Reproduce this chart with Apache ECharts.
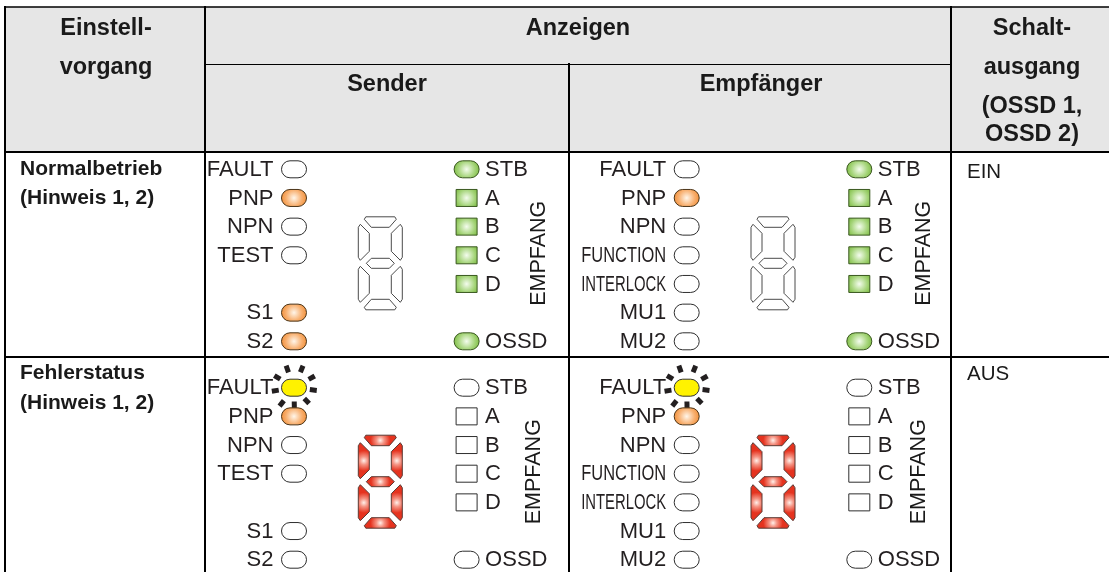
<!DOCTYPE html>
<html style="height: 100%">
<head>
    <meta charset="utf-8">
    <title>Anzeigen</title>
    <script src="https://cdn.jsdelivr.net/npm/echarts@6/dist/echarts.min.js"></script>
</head>
<body style="height: 100%; margin: 0; background: #fff">
    <div id="main" style="width: 1109px; height: 572px"></div>
    <script type="text/javascript">
        // table text
        var stepHead = ['Einstell-', 'vorgang'];
        var displayHead = 'Anzeigen';
        var unitHead = ['Sender', 'Empfänger'];
        var outputHead = ['Schalt-', 'ausgang', '(OSSD 1,', 'OSSD 2)'];
        var stepRows = [['Normalbetrieb', '(Hinweis 1, 2)'], ['Fehlerstatus', '(Hinweis 1, 2)']];
        var outputRows = ['EIN', 'AUS'];
        var sideLabel = 'EMPFANG';

        // the 7 led rows of a panel and its 2 led columns
        var ledSlots = ['r0', 'r1', 'r2', 'r3', 'r4', 'r5', 'r6'];
        var ledColumns = ['links', 'rechts'];

        // led names per row, null = empty row
        var senderLeft = ['FAULT', 'PNP', 'NPN', 'TEST', null, 'S1', 'S2'];
        var receiverLeft = ['FAULT', 'PNP', 'NPN', 'FUNCTION', 'INTERLOCK', 'MU1', 'MU2'];
        var rightNames = ['STB', 'A', 'B', 'C', 'D', null, 'OSSD'];

        // led states per row
        var normalSenderLeft = ['off', 'orange', 'off', 'off', null, 'orange', 'orange'];
        var normalReceiverLeft = ['off', 'orange', 'off', 'off', 'off', 'off', 'off'];
        var normalRight = ['green', 'green', 'green', 'green', 'green', null, 'green'];
        var faultSenderLeft = ['flash', 'orange', 'off', 'off', null, 'off', 'off'];
        var faultReceiverLeft = ['flash', 'orange', 'off', 'off', 'off', 'off', 'off'];
        var faultRight = ['off', 'off', 'off', 'off', 'off', null, 'off'];

        // seven segment display
        var segmentNames = ['a', 'b', 'c', 'd', 'e', 'f', 'g'];
        var normalSegments = ['off', 'off', 'off', 'off', 'off', 'off', 'off'];
        var faultSegments = ['red', 'red', 'red', 'red', 'red', 'red', 'red'];

        var panels = [
            { left: 294, top: 169.3, names: senderLeft, states: normalSenderLeft, right: normalRight, segments: normalSegments, sideX: 539 },
            { left: 686.7, top: 169.3, names: receiverLeft, states: normalReceiverLeft, right: normalRight, segments: normalSegments, sideX: 924 },
            { left: 294, top: 387.7, names: senderLeft, states: faultSenderLeft, right: faultRight, segments: faultSegments, sideX: 534 },
            { left: 686.7, top: 387.7, names: receiverLeft, states: faultReceiverLeft, right: faultRight, segments: faultSegments, sideX: 919 }
        ];
        var panelWidth = 172.6;
        var panelHeight = 172;

        var fontName = '"Liberation Sans", Arial, sans-serif';
        var ink = '#231f20';

        function glow(inner, mid, outer) {
            return new echarts.graphic.RadialGradient(0.5, 0.5, 0.8, [
                { offset: 0, color: inner },
                { offset: 0.55, color: mid },
                { offset: 1, color: outer }
            ]);
        }
        var ledFill = {
            off: '#ffffff',
            flash: '#fff200',
            orange: glow('#fff6ea', '#f8b070', '#f0862a'),
            green: glow('#f4fcee', '#a8d67e', '#74b636')
        };
        var ledStroke = { off: '#2e2e2e', flash: '#333', orange: '#4a3418', green: '#3a5820' };

        // rays round the flashing led, [dx, dy]
        var rays = [[-6.7, -18.7], [7.7, -18.7], [17.7, -10], [19.3, 2.3], [12.7, 13.3], [0.3, 17.3], [-12.3, 15.7], [-18.7, 3], [-16.7, -10.3]];

        // long names get squeezed to fit the label column
        var measure = document.createElement('canvas').getContext('2d');
        measure.font = '22px "Liberation Sans"';
        function squeeze(text) {
            return Math.min(1, 85 / measure.measureText(text).width);
        }

        function ledSeries(panel, index) {
            var rows = [];
            panel.names.forEach(function (name, slot) {
                if (name) rows.push({ col: 0, slot: slot, name: name, state: panel.states[slot] });
            });
            rightNames.forEach(function (name, slot) {
                if (name) rows.push({ col: 1, slot: slot, name: name, state: panel.right[slot] });
            });
            return {
                type: 'custom',
                coordinateSystem: 'cartesian2d',
                xAxisIndex: index,
                yAxisIndex: index,
                clip: false,
                silent: true,
                z: 5,
                data: rows.map(function (r) { return [r.col, r.slot]; }),
                renderItem: function (params, api) {
                    var r = rows[params.dataIndex];
                    var p = api.coord([api.value(0), api.value(1)]);
                    var square = r.name.length === 1;
                    var w = square ? 21 : 25;
                    var kids = [];
                    if (r.state === 'flash') {
                        rays.forEach(function (d) {
                            kids.push({
                                type: 'rect',
                                x: p[0] + d[0],
                                y: p[1] + d[1],
                                rotation: -Math.atan2(d[1], d[0]),
                                shape: { x: -3.5, y: -2.5, width: 7, height: 5 },
                                style: { fill: '#231f20' }
                            });
                        });
                    }
                    kids.push({
                        type: 'rect',
                        shape: { x: p[0] - w / 2, y: p[1] - 8.5, width: w, height: 17, r: square ? 0 : 8.5 },
                        style: { fill: ledFill[r.state], stroke: ledStroke[r.state], lineWidth: 1 }
                    });
                    kids.push({
                        type: 'text',
                        x: r.col === 0 ? p[0] - 20.5 : p[0] + 18.5,
                        y: p[1] + 0.5,
                        scaleX: squeeze(r.name),
                        style: {
                            text: r.name,
                            fill: ink,
                            font: '22px ' + fontName,
                            align: r.col === 0 ? 'right' : 'left',
                            verticalAlign: 'middle'
                        }
                    });
                    return { type: 'group', children: kids };
                }
            };
        }

        // corner points of the segments, relative to the display centre
        var capShape = [[-14.5, -46.5], [14.5, -46.5], [16, -44], [9, -36], [-9, -36], [-16, -44]];
        var sideShape = [[-20, -39], [-11, -30], [-11, -12], [-20, -3], [-22, -6], [-22, -36]];
        var barShape = [[-14, 0], [-9, -5], [9, -5], [14, 0], [9, 5], [-9, 5]];
        var segmentShapes = {
            a: [capShape, 1, 1],
            b: [sideShape, -1, 1],
            c: [sideShape, -1, -1],
            d: [capShape, 1, -1],
            e: [sideShape, 1, -1],
            f: [sideShape, 1, 1],
            g: [barShape, 1, 1]
        };
        var segmentRed = new echarts.graphic.RadialGradient(0.5, 0.5, 0.85, [
            { offset: 0, color: '#fff0ea' },
            { offset: 0.4, color: '#f59484' },
            { offset: 1, color: '#e5331f' }
        ]);

        function segmentSeries(panel, index) {
            return {
                type: 'custom',
                coordinateSystem: 'cartesian2d',
                xAxisIndex: index,
                yAxisIndex: index,
                clip: false,
                silent: true,
                z: 4,
                data: segmentNames.map(function () { return [0, 0]; }),
                renderItem: function (params, api) {
                    var sys = params.coordSys;
                    var cx = sys.x + sys.width / 2;
                    var cy = sys.y + sys.height / 2 + 8;
                    var def = segmentShapes[segmentNames[params.dataIndex]];
                    var points = def[0].map(function (pt) {
                        return [cx + pt[0] * def[1], cy + pt[1] * def[2]];
                    });
                    var lit = panel.segments[params.dataIndex] === 'red';
                    return {
                        type: 'polygon',
                        shape: { points: points },
                        style: {
                            fill: lit ? segmentRed : '#ffffff',
                            stroke: lit ? '#5a3a34' : '#4a4a4a',
                            lineWidth: 1,
                            lineJoin: 'round'
                        }
                    };
                }
            };
        }

        function line(x1, y1, x2, y2, width) {
            return {
                type: 'line',
                shape: { x1: x1, y1: y1, x2: x2, y2: y2 },
                style: { stroke: '#000', lineWidth: width },
                z: 10
            };
        }
        function label(text, x, y, size, bold, align) {
            return {
                type: 'text',
                x: x,
                y: y,
                style: {
                    text: text,
                    fill: '#1a1a1a',
                    font: (bold ? 'bold ' : '') + size + 'px ' + fontName,
                    align: align || 'center',
                    verticalAlign: 'middle'
                },
                z: 11
            };
        }

        var frame = [
            { type: 'rect', shape: { x: 5, y: 7, width: 1104, height: 145 }, style: { fill: '#e6e6e6' }, z: 1 },
            line(5, 7, 1109, 7, 1.5),
            line(205, 64.5, 951, 64.5, 1),
            line(5, 152, 1109, 152, 2),
            line(5, 357, 1109, 357, 2),
            line(5, 6, 5, 572, 2),
            line(205, 6, 205, 572, 2),
            line(569, 63, 569, 572, 2),
            line(951, 6, 951, 572, 2),
            label(stepHead[0], 106, 29, 23.5, true),
            label(stepHead[1], 106, 68, 23.5, true),
            label(displayHead, 578, 29, 23.5, true),
            label(unitHead[0], 387, 85, 23.5, true),
            label(unitHead[1], 761, 85, 23.5, true),
            label(outputHead[0], 1032, 29, 23.5, true),
            label(outputHead[1], 1032, 68, 23.5, true),
            label(outputHead[2], 1032, 107, 23.5, true),
            label(outputHead[3], 1032, 135, 23.5, true),
            label(stepRows[0][0], 20, 169, 21, true, 'left'),
            label(stepRows[0][1], 20, 198, 21, true, 'left'),
            label(stepRows[1][0], 20, 373, 21, true, 'left'),
            label(stepRows[1][1], 20, 403, 21, true, 'left'),
            label(outputRows[0], 967, 172, 20.5, false, 'left'),
            label(outputRows[1], 967, 374, 20.5, false, 'left')
        ];
        panels.forEach(function (panel) {
            var side = label(sideLabel, panel.sideX, panel.top + panelHeight / 2 - 2, 21.5, false);
            side.rotation = Math.PI / 2;
            frame.push(side);
        });

        var myChart = echarts.init(document.getElementById('main'), null, { renderer: 'canvas' });

        var series = [];
        panels.forEach(function (panel, i) {
            series.push(segmentSeries(panel, i));
            series.push(ledSeries(panel, i));
        });

        myChart.setOption({
            animation: false,
            backgroundColor: '#ffffff',
            graphic: { elements: frame },
            grid: panels.map(function (panel) {
                return { left: panel.left, top: panel.top, width: panelWidth, height: panelHeight, containLabel: false };
            }),
            xAxis: panels.map(function (panel, i) {
                return { type: 'category', gridIndex: i, data: ledColumns, boundaryGap: false, show: false };
            }),
            yAxis: panels.map(function (panel, i) {
                return { type: 'category', gridIndex: i, data: ledSlots, boundaryGap: false, inverse: true, show: false };
            }),
            series: series
        });
    </script>
</body>
</html>
